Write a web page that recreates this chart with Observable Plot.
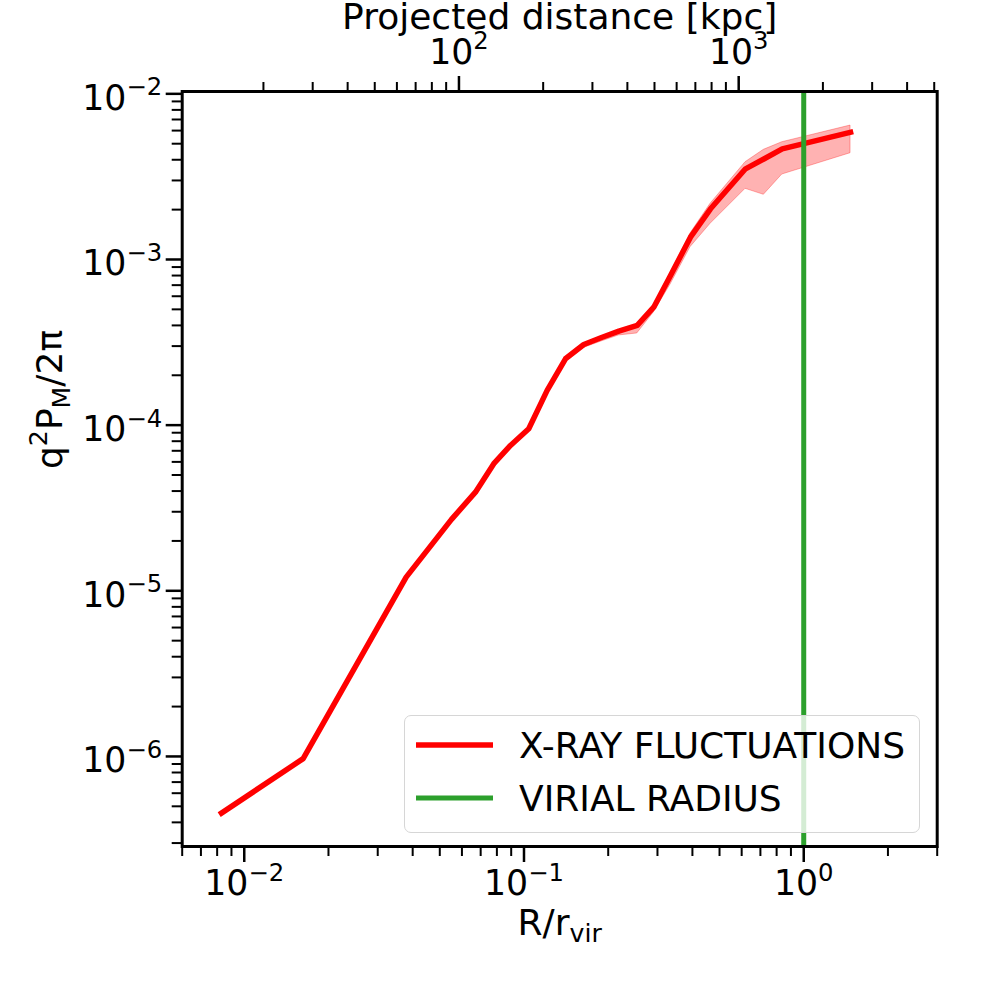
<!DOCTYPE html>
<html>
<head>
<meta charset="utf-8">
<script src="https://cdn.jsdelivr.net/npm/d3@7"></script>
<script src="https://cdn.jsdelivr.net/npm/@observablehq/plot@0.6"></script>
<style>
  body { margin: 0; background: #fff; }
  #wrap { position: relative; width: 1008px; height: 1008px; font-family: "DejaVu Sans"; }
</style>
</head>
<body>
<div id="wrap"></div>
<script>
// ---- data ----
const radius    = [0.00829, 0.01624, 0.03792, 0.05506, 0.06706, 0.07798, 0.08947, 0.1040, 0.1210, 0.1407, 0.1636, 0.1893, 0.2183, 0.2540, 0.2910, 0.3341, 0.3937, 0.4643, 0.6193, 0.7202, 0.8379, 1.470];
const power     = [4.55e-7, 9.70e-7, 1.210e-5, 2.698e-5, 3.94e-5, 5.85e-5, 7.54e-5, 9.51e-5, 1.620e-4, 2.516e-4, 3.069e-4, 3.383e-4, 3.693e-4, 3.998e-4, 5.154e-4, 8.006e-4, 1.363e-3, 2.023e-3, 3.527e-3, 4.042e-3, 4.657e-3, 5.865e-3];
const powerLow  = [4.49e-7, 9.57e-7, 1.193e-5, 2.66e-5, 3.89e-5, 5.77e-5, 7.44e-5, 9.38e-5, 1.575e-4, 2.423e-4, 2.923e-4, 3.20e-4, 3.478e-4, 3.576e-4, 4.786e-4, 7.065e-4, 1.187e-3, 1.642e-3, 2.671e-3, 2.458e-3, 3.258e-3, 4.380e-3];
const powerHigh = [4.61e-7, 9.83e-7, 1.227e-5, 2.74e-5, 4.00e-5, 5.93e-5, 7.65e-5, 9.64e-5, 1.642e-4, 2.544e-4, 3.112e-4, 3.43e-4, 3.729e-4, 4.054e-4, 5.278e-4, 8.232e-4, 1.435e-3, 2.168e-3, 3.866e-3, 4.592e-3, 5.104e-3, 6.435e-3];
const virialRadius = [1];

const xDomain = [0.006, 3];
const yDomain = [2.86e-7, 0.01033];
const RVIR_KPC = 1708;

const xMajor = [0.01, 0.1, 1];
const xMajorLabels = ["10^{−2}", "10^{−1}", "10^{0}"];
const xMinor = [0.006, 0.007, 0.008, 0.009, 0.02, 0.03, 0.04, 0.05, 0.06, 0.07, 0.08, 0.09, 0.2, 0.3, 0.4, 0.5, 0.6, 0.7, 0.8, 0.9, 2, 3];
const kpcMajor = [100, 1000];
const kpcMajorLabels = ["10^{2}", "10^{3}"];
const kpcMinor = [20, 30, 40, 50, 60, 70, 80, 90, 200, 300, 400, 500, 600, 700, 800, 900, 2000, 3000, 4000, 5000];
const yMajor = [1e-6, 1e-5, 1e-4, 1e-3, 1e-2];
const yMajorLabels = ["10^{−6}", "10^{−5}", "10^{−4}", "10^{−3}", "10^{−2}"];
const yMinor = [];
for (let e = -7; e <= -3; e++) for (let m = 2; m <= 9; m++) {
  const v = m * Math.pow(10, e);
  if (v >= yDomain[0] && v <= yDomain[1]) yMinor.push(v);
}

const xLabel = "R/r_{vir}";
const topLabel = "Projected distance [kpc]";
const yLabel = "q^{2}P_{M}/2π";
const legendLabels = ["X-RAY FLUCTUATIONS", "VIRIAL RADIUS"];
const legendColors = ["#ff0000", "#2ca02c"];

// ---- chart ----
const rows = radius.map((r, i) => ({r, p: power[i], lo: powerLow[i], hi: powerHigh[i]}));
const FS = 34.7;   // tick labels
const FL = 36;     // axis labels and legend

const chart = Plot.plot({
  width: 1008,
  height: 1008,
  marginLeft: 181.7,
  marginRight: 71.3,
  marginTop: 91,
  marginBottom: 162,
  style: {fontFamily: "DejaVu Sans", fontSize: FS + "px", background: "white", color: "black"},
  x: {type: "log", domain: xDomain},
  y: {type: "log", domain: yDomain},
  marks: [
    Plot.areaY(rows, {x: "r", y1: "lo", y2: "hi", fill: "#ff0000", fillOpacity: 0.3, stroke: "#ff0000", strokeOpacity: 0.3, strokeWidth: 1}),
    Plot.line(rows, {x: "r", y: "p", stroke: "#ff0000", strokeWidth: 5.5, strokeLinecap: "square", strokeLinejoin: "round"}),
    Plot.ruleX(virialRadius, {x: d => d, stroke: "#2ca02c", strokeWidth: 5}),
    // bottom axis
    Plot.axisX(xMajor, {anchor: "bottom", tickSize: 16, strokeWidth: 2.5, fill: null, label: null}),
    Plot.axisX(xMinor, {anchor: "bottom", tickSize: 10, strokeWidth: 2, fill: null, label: null}),
    // top axis (kpc)
    Plot.axisX(kpcMajor.map(k => k / RVIR_KPC), {anchor: "top", tickSize: 16, strokeWidth: 2.5, fill: null, label: null}),
    Plot.axisX(kpcMinor.map(k => k / RVIR_KPC), {anchor: "top", tickSize: 10, strokeWidth: 2, fill: null, label: null}),
    // left axis
    Plot.axisY(yMajor, {anchor: "left", tickSize: 16, strokeWidth: 2.5, fill: null, label: null}),
    Plot.axisY(yMinor, {anchor: "left", tickSize: 10, strokeWidth: 2, fill: null, label: null}),
    // tick labels
    Plot.text(xMajor, {x: d => d, text: (d, i) => xMajorLabels[i], frameAnchor: "bottom", lineAnchor: "bottom", dy: 48.6, fontSize: FS, fill: "black"}),
    Plot.text(kpcMajor, {x: d => d / RVIR_KPC, text: (d, i) => kpcMajorLabels[i], frameAnchor: "top", lineAnchor: "bottom", dy: -27.7, fontSize: FS, fill: "black"}),
    Plot.text(yMajor, {y: d => d, text: (d, i) => yMajorLabels[i], frameAnchor: "left", textAnchor: "end", lineAnchor: "bottom", dx: -20, dy: 16, fontSize: FS, fill: "black"}),
    // axis labels
    Plot.text([xLabel], {text: d => d, frameAnchor: "bottom", lineAnchor: "bottom", dy: 88, fontSize: FL, fill: "black"}),
    Plot.text([topLabel], {text: d => d, frameAnchor: "top", lineAnchor: "bottom", dy: -62.5, fontSize: FL, fill: "black"}),
    Plot.text([yLabel], {text: d => d, frameAnchor: "left", lineAnchor: "bottom", rotate: -90, dx: -120, fontSize: FL, fill: "black"}),
    Plot.frame({stroke: "black", strokeWidth: 3})
  ]
});

const wrap = document.getElementById("wrap");
wrap.appendChild(chart);

// mathtext-like superscripts / subscripts
const NS = "http://www.w3.org/2000/svg";
chart.querySelectorAll("text").forEach(t => {
  const s = t.textContent;
  if (!/[\^_]\{/.test(s)) return;
  const fs = parseFloat(getComputedStyle(t).fontSize) || FS;
  const tokens = s.match(/(\^\{[^}]*\}|_\{[^}]*\}|[^\^_]+)/g);
  t.textContent = "";
  let cur = 0;
  for (const tok of tokens) {
    let target = 0, size = fs, txt = tok;
    if (tok.startsWith("^{")) { target = -0.42 * fs; size = 0.7 * fs; txt = tok.slice(2, -1); }
    else if (tok.startsWith("_{")) { target = 0.22 * fs; size = 0.7 * fs; txt = tok.slice(2, -1); }
    const ts = document.createElementNS(NS, "tspan");
    ts.setAttribute("dy", (target - cur).toFixed(2));
    ts.setAttribute("font-size", size.toFixed(2));
    ts.textContent = txt;
    t.appendChild(ts);
    cur = target;
  }
});

// legend (overlaid on the plot area, semi-transparent like the reference)
const lg = d3.select(wrap).append("div")
  .style("position", "absolute").style("left", "404px").style("top", "715px")
  .style("width", "516px").style("height", "118px").style("box-sizing", "border-box")
  .style("border", "1.5px solid #d6d6d6").style("border-radius", "7px")
  .style("background", "rgba(255,255,255,0.8)");
const ls = lg.append("svg").attr("width", 513).attr("height", 115)
  .style("position", "absolute").style("left", "-1.5px").style("top", "-1.5px").style("overflow", "visible");
legendLabels.forEach((lab, i) => {
  const y = 30 + i * 53;
  ls.append("line").attr("x1", 12).attr("x2", 89).attr("y1", y).attr("y2", y)
    .attr("stroke", legendColors[i]).attr("stroke-width", i === 0 ? 5.5 : 5);
  ls.append("text").attr("x", 115).attr("y", y + 12.5).attr("font-family", "DejaVu Sans")
    .attr("font-size", FL).attr("fill", "black").text(lab);
});
</script>
</body>
</html>
